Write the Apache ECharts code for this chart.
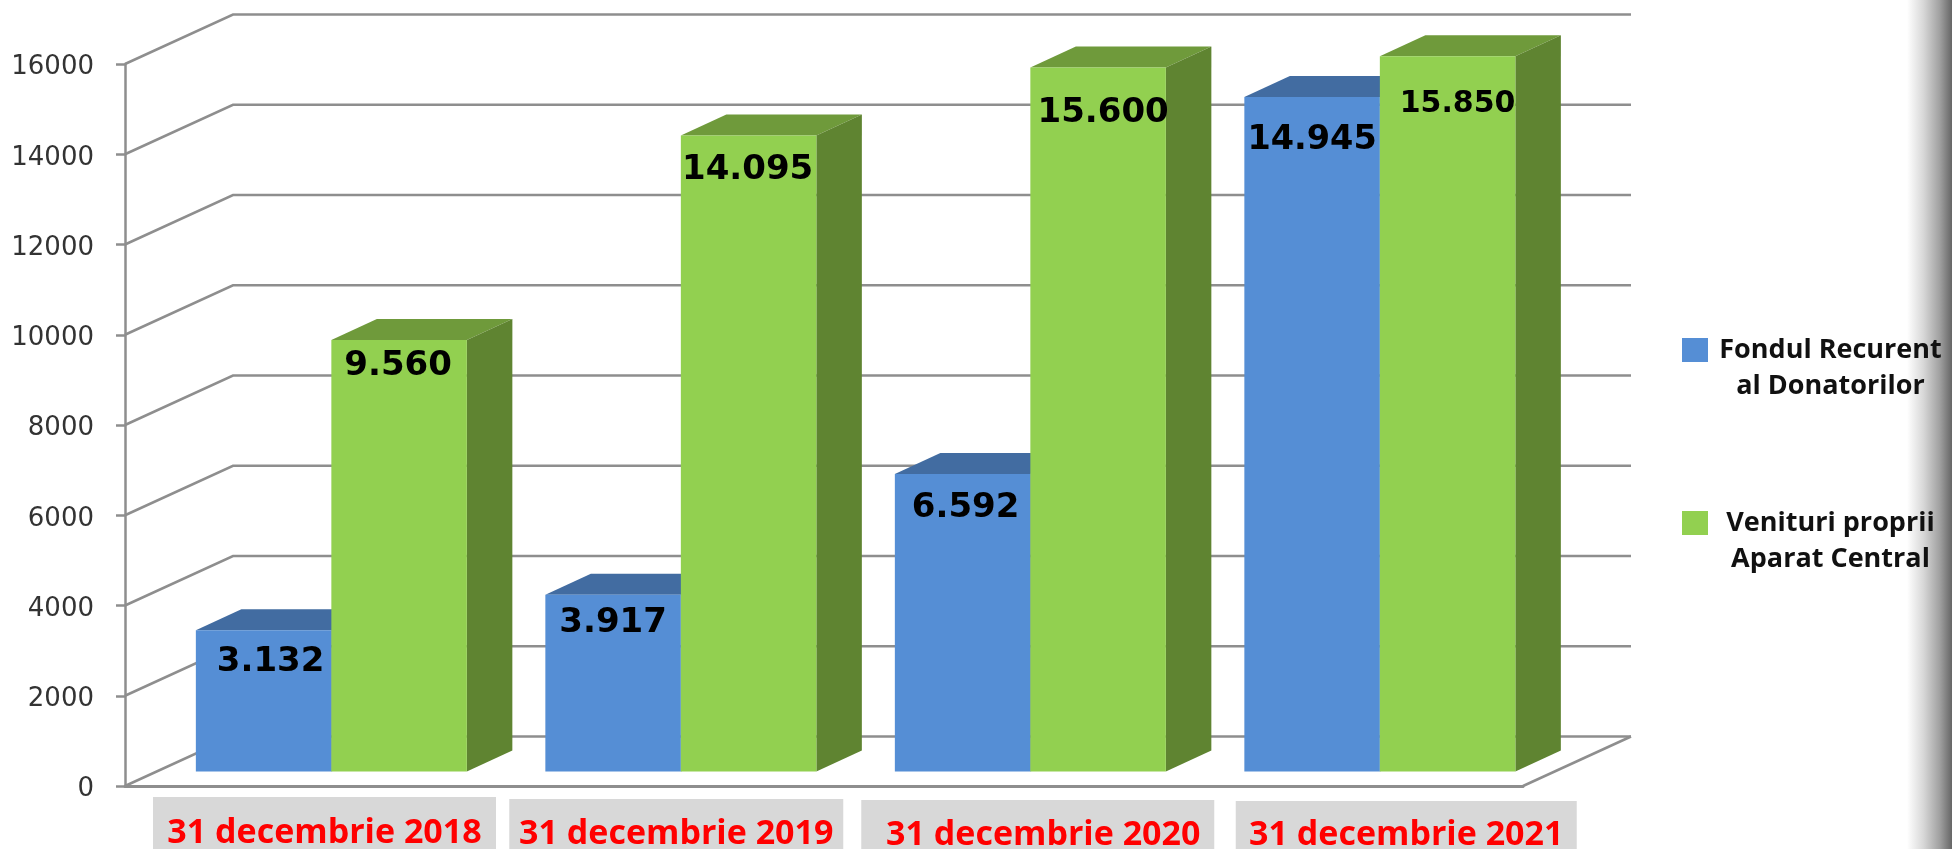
<!DOCTYPE html>
<html>
<head>
<meta charset="utf-8">
<style>html,body{margin:0;padding:0;background:#fff;overflow:hidden}#c{width:1952px;height:849px;filter:blur(0.5px)}</style>
<script src="https://cdn.jsdelivr.net/npm/echarts@6/dist/echarts.min.js"></script>
</head>
<body>
<div id="c"></div>
<script>
const categories = ['31 decembrie 2018', '31 decembrie 2019', '31 decembrie 2020', '31 decembrie 2021'];
const fondulValues = [3132, 3917, 6592, 14945];
const venituriValues = [9560, 14095, 15600, 15850];
const yTicks = [0, 2000, 4000, 6000, 8000, 10000, 12000, 14000, 16000];

// drawing style, separate from the data
const WALL = { dx: 108, dy: 49.5 };
const BAR = { dx: 31.6, dy: 14.5, depthX: 45.5, depthY: 21, width: 135.5 };
const LINE = '#8e8e8e';
const fondulNudge = [[7, 32.5, 34], [0, 28.5, 34], [3, 34, 34], [0, 43, 33.5]];
const venituriNudge = [[-1, 26.5, 34], [-1, 34.5, 34], [5, 45.5, 34], [10, 47.5, 30]];
const labelBoxes = [
  { cx: 24.75, top: 11, w: 343, tx: 0, ty: 47 },
  { cx: 27, top: 13, w: 334, tx: 0, ty: 48 },
  { cx: 39, top: 14, w: 353, tx: 5.5, ty: 49 },
  { cx: 58, top: 15, w: 341, tx: 0, ty: 49 }
];
const fmt = v => { const s = String(v); return s.slice(0, -3) + '.' + s.slice(-3); };

const bars = (side, colors, nudge) => (params, api) => {
  const i = api.value(0), v = api.value(1);
  const top = api.coord([i, v]), base = api.coord([i, 0]);
  const x0 = base[0] + BAR.dx + (side === 0 ? -BAR.width : 0);
  const x1 = x0 + BAR.width;
  const yb = base[1] - BAR.dy, yt = top[1] - BAR.dy;
  const dX = BAR.depthX, dY = BAR.depthY;
  const n = nudge[i];
  return {
    type: 'group',
    children: [
      { type: 'polygon', shape: { points: [[x0, yt], [x0 + dX, yt - dY], [x1 + dX, yt - dY], [x1, yt]] }, style: { fill: colors.top } },
      { type: 'polygon', shape: { points: [[x1, yt], [x1 + dX, yt - dY], [x1 + dX, yb - dY], [x1, yb]] }, style: { fill: colors.side } },
      { type: 'rect', shape: { x: x0, y: yt, width: BAR.width, height: yb - yt }, style: { fill: colors.front } },
      { type: 'text', z2: 50, style: { text: fmt(v), x: (x0 + x1) / 2 + n[0], y: yt + n[1], align: 'center', verticalAlign: 'middle', font: 'bold ' + n[2] + 'px "DejaVu Sans"', fill: '#000' } }
    ]
  };
};

const option = {
  animation: false,
  backgroundColor: '#fff',
  graphic: [{
    type: 'rect', right: 0, top: 0, z: -1, silent: true,
    shape: { width: 45, height: 849 },
    style: { fill: { type: 'linear', x: 0, y: 0, x2: 1, y2: 0, colorStops: [
      { offset: 0, color: '#ffffff' }, { offset: 0.36, color: '#d8d8d8' }, { offset: 0.73, color: '#a0a0a0' }, { offset: 1, color: '#666666' }
    ] } }
  }],
  grid: { left: 125, top: 64, width: 1398, height: 722 },
  xAxis: {
    type: 'category', data: categories,
    axisLine: { show: true, lineStyle: { color: LINE, width: 3 } },
    axisTick: { show: false }, axisLabel: { show: false }, splitLine: { show: false }
  },
  yAxis: {
    type: 'value', min: 0, max: 16000, interval: 2000,
    axisLine: { show: true, lineStyle: { color: LINE, width: 2.5 } },
    axisTick: { show: true, length: 9, lineStyle: { color: LINE, width: 2.5 } },
    axisLabel: {
      margin: 31,
      formatter: v => '{a|' + v + '}',
      rich: { a: { fontFamily: 'DejaVu Sans', fontSize: 26, color: '#333', padding: [7, 0, 0, 0] } }
    },
    splitLine: { show: false }
  },
  legend: {
    left: 1677, top: 291, orient: 'vertical', icon: 'rect',
    itemWidth: 26, itemHeight: 24, itemGap: 65, selectedMode: false,
    data: ['Fondul Recurent\nal Donatorilor', 'Venituri proprii\nAparat Central'],
    formatter: name => {
      const p = name.split('\n');
      return '{a| }\n{a|' + p[0] + '}\n{a|' + p[1] + '}';
    },
    textStyle: { rich: { a: { width: 235, height: 36, lineHeight: 36, align: 'center', fontFamily: 'Open Sans', fontWeight: 'bold', fontSize: 27, color: '#111' } } }
  },
  series: [
    {
      type: 'custom', name: 'walls', silent: true, z: 1,
      data: yTicks.map(t => [0, t]),
      encode: { x: 0, y: 1 },
      renderItem: (params, api) => {
        const p = api.coord([0, api.value(1)]);
        const band = api.size([1, 0])[0];
        const x0 = p[0] - band / 2, bx = x0 + WALL.dx, by = p[1] - WALL.dy;
        const ex = x0 + band * categories.length + WALL.dx;
        const ls = { stroke: LINE, lineWidth: 2.5, fill: null };
        const children = [{ type: 'polyline', shape: { points: [[x0, p[1]], [bx, by], [ex, by]] }, style: ls }];
        if (api.value(1) === 0) children.push({ type: 'line', shape: { x1: ex, y1: by, x2: ex - WALL.dx, y2: p[1] }, style: ls });
        return { type: 'group', children };
      }
    },
    {
      type: 'custom', name: 'Fondul Recurent\nal Donatorilor', z: 3,
      itemStyle: { color: '#558ed5' },
      data: fondulValues.map((v, i) => [i, v]),
      encode: { x: 0, y: 1 },
      renderItem: bars(0, { front: '#558ed5', top: '#426ca1', side: '#3b6499' }, fondulNudge)
    },
    {
      type: 'custom', name: 'Venituri proprii\nAparat Central', z: 4,
      itemStyle: { color: '#92d050' },
      data: venituriValues.map((v, i) => [i, v]),
      encode: { x: 0, y: 1 },
      renderItem: bars(1, { front: '#92d050', top: '#6f9a3b', side: '#5f8431' }, venituriNudge)
    },
    {
      type: 'custom', name: 'category labels', silent: true, z: 5,
      data: categories.map((c, i) => [i, 0]),
      encode: { x: 0, y: 1 },
      renderItem: (params, api) => {
        const i = api.value(0), p = api.coord([i, 0]), b = labelBoxes[i];
        const cx = p[0] + b.cx;
        return { type: 'group', children: [
          { type: 'rect', shape: { x: cx - b.w / 2, y: p[1] + b.top, width: b.w, height: 60 }, style: { fill: '#d8d8d8' } },
          { type: 'text', style: { text: categories[i], x: cx + b.tx, y: p[1] + b.ty, align: 'center', verticalAlign: 'middle', font: 'bold 34px "Open Sans"', fill: '#ff0000' } }
        ] };
      }
    }
  ]
};
echarts.init(document.getElementById('c'), null, { renderer: 'canvas' }).setOption(option);
</script>
</body>
</html>
